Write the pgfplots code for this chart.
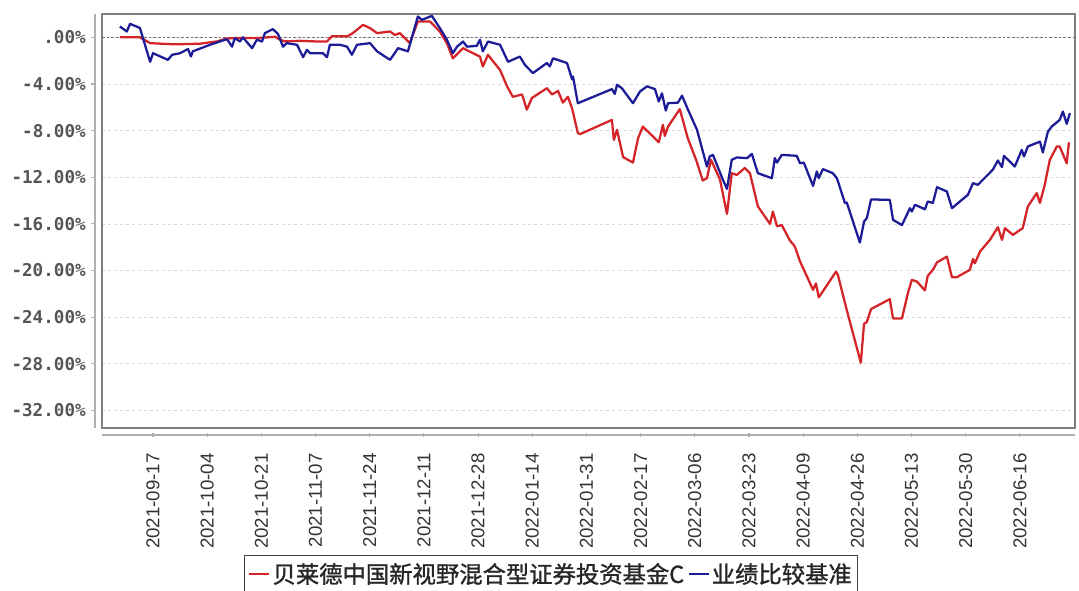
\documentclass[border=0pt]{standalone}
\usepackage{fontspec}
\setmainfont{Liberation Sans}
\setmonofont{DejaVu Sans Mono}
\newfontfamily\cjk[AutoFakeBold=1.2]{Noto Sans CJK SC}
\usepackage{pgfplots}
\pgfplotsset{compat=1.18}

\definecolor{fundred}{RGB}{212,36,40}
\definecolor{benchblue}{RGB}{28,28,150}
\definecolor{framegray}{RGB}{128,128,128}
\definecolor{axisgray}{RGB}{175,175,175}
\definecolor{labelgray}{RGB}{85,85,85}

% x = days after 2021-09-17, y = cumulative return in %
\pgfplotstableread{
x y
-10.4 0.00
-4.1 0.00
-0.9 -0.50
6.9 -0.60
14.7 -0.55
20.1 -0.35
23.2 -0.10
27.3 -0.05
33.6 -0.05
38.3 0.05
39.8 -0.20
41.4 -0.35
46.1 -0.30
50.8 -0.35
54.6 -0.35
56.2 0.10
60.2 0.10
60.9 0.07
62.7 0.36
65.9 1.07
68.1 0.79
70.3 0.36
74.4 0.50
75.9 0.20
77.5 0.36
80.6 -0.50
83.1 1.36
86.9 1.36
90.0 0.50
92.2 -0.50
94.1 -1.80
97.3 -0.93
100.4 -1.36
102.6 -1.65
103.5 -2.50
105.1 -1.50
108.9 -2.80
111.1 -4.20
112.9 -5.10
115.8 -4.90
117.3 -6.20
118.9 -5.20
123.6 -4.36
125.2 -4.90
127.1 -4.60
128.6 -5.60
130.2 -5.10
131.5 -6.10
133.3 -8.20
134.0 -8.30
144.0 -7.08
144.6 -8.80
145.6 -7.93
147.5 -10.27
150.6 -10.74
152.2 -8.65
153.7 -7.65
158.7 -9.00
160.0 -7.50
160.6 -8.45
161.6 -7.65
165.3 -6.16
167.8 -8.65
170.4 -10.50
172.5 -12.28
173.8 -12.08
175.1 -10.50
177.9 -12.20
180.1 -15.14
181.6 -11.65
183.2 -11.80
185.7 -11.20
187.3 -11.65
189.8 -14.50
193.6 -16.00
194.5 -14.94
195.8 -16.20
197.3 -16.10
199.8 -17.40
201.4 -17.94
203.0 -19.20
207.1 -21.65
208.0 -21.10
208.9 -22.30
214.3 -20.10
214.9 -20.37
217.7 -23.40
222.1 -27.90
223.1 -24.57
224.0 -24.40
225.3 -23.30
231.2 -22.45
232.2 -24.10
235.0 -24.10
236.9 -21.90
238.1 -20.80
239.7 -20.94
242.2 -21.70
243.1 -20.45
244.7 -19.94
246.0 -19.30
249.1 -18.80
250.7 -20.57
252.2 -20.57
256.3 -19.94
257.3 -19.00
257.9 -19.37
259.5 -18.37
262.6 -17.37
265.1 -16.28
266.4 -17.37
267.3 -16.36
269.8 -16.94
272.9 -16.36
274.5 -14.50
277.3 -13.36
278.3 -14.20
279.8 -12.65
281.4 -10.50
283.6 -9.36
284.5 -9.36
286.7 -10.80
287.4 -9.00
}\fund

\pgfplotstableread{
x y
-10.4 0.93
-8.2 0.50
-7.2 1.16
-4.1 0.80
-0.9 -2.10
0.0 -1.36
4.7 -1.93
6.0 -1.50
8.5 -1.36
11.0 -1.00
11.9 -1.65
12.5 -1.20
17.9 -0.64
23.2 -0.15
24.8 -0.80
25.7 -0.07
27.3 -0.36
28.2 0.00
31.1 -0.93
32.6 -0.20
34.2 -0.36
35.1 0.36
37.6 0.70
39.2 0.30
40.8 -0.80
42.0 -0.50
45.2 -0.64
47.1 -1.70
48.3 -1.07
49.3 -1.36
53.3 -1.36
54.6 -1.70
55.5 -0.64
58.7 -0.64
60.9 -0.80
62.4 -1.50
64.0 -0.64
68.1 -0.50
70.3 -1.20
72.8 -1.65
74.4 -1.93
76.9 -0.93
80.0 -1.20
83.1 1.78
84.4 1.50
87.5 1.84
90.0 0.80
92.2 -0.20
94.1 -1.36
95.4 -0.80
97.3 -0.36
98.5 -0.80
101.6 -0.73
102.6 -0.20
103.5 -1.20
105.1 -0.36
108.9 -0.64
111.4 -2.10
115.1 -1.65
116.7 -2.36
119.2 -3.07
123.6 -2.20
124.5 -2.50
125.5 -1.80
129.9 -2.20
131.5 -3.60
131.8 -3.36
133.3 -5.65
144.0 -4.44
144.9 -4.85
145.6 -4.07
147.1 -4.36
150.6 -5.65
152.8 -4.65
155.0 -4.20
157.5 -4.44
158.7 -5.50
159.7 -4.80
160.9 -6.28
161.6 -5.65
164.7 -5.60
166.0 -5.00
167.8 -6.16
170.7 -7.93
173.8 -11.08
174.7 -10.20
175.7 -10.08
178.8 -12.20
180.1 -13.00
181.6 -10.50
183.2 -10.30
186.4 -10.36
187.9 -10.00
189.8 -11.65
194.2 -12.08
195.1 -10.36
195.8 -10.74
197.3 -10.08
202.0 -10.16
203.0 -10.80
204.2 -10.74
207.1 -12.74
208.3 -11.50
208.9 -12.08
210.2 -11.30
213.3 -11.65
214.6 -12.08
217.1 -14.20
217.7 -14.17
221.8 -17.60
223.1 -15.80
224.0 -15.50
225.3 -13.90
231.2 -13.94
232.2 -15.65
235.0 -16.10
237.5 -14.65
238.1 -14.94
239.1 -14.36
242.2 -14.74
243.1 -14.08
244.7 -14.20
246.0 -12.85
249.1 -13.22
250.7 -14.65
255.7 -13.50
257.3 -12.50
258.8 -12.65
263.5 -11.36
265.1 -10.56
266.4 -11.13
267.0 -10.16
270.4 -11.08
272.6 -9.65
273.3 -10.22
274.5 -9.36
278.3 -8.94
279.2 -9.88
280.8 -8.08
282.0 -7.65
284.5 -7.08
285.5 -6.36
286.7 -7.42
287.7 -6.50
}\bench

\begin{document}
\begin{tikzpicture}
\begin{axis}[
  at={(76.5pt,-321pt)}, anchor=south west,
  scale only axis, width=729.75pt, height=310.5pt,
  xmin=-16, xmax=289.3, ymin=-33.5, ymax=2.0,
  clip mode=individual,
  axis line style={draw=framegray, line width=1.1pt},
  major tick length=0pt,
  xtick={0,17,...,272},
  xticklabels={2021-09-17,2021-10-04,2021-10-21,2021-11-07,2021-11-24,2021-12-11,2021-12-28,2022-01-14,2022-01-31,2022-02-17,2022-03-06,2022-03-23,2022-04-09,2022-04-26,2022-05-13,2022-05-30,2022-06-16},
  xticklabel style={rotate=90, anchor=east, inner sep=0pt, xshift=-18.75pt,
    font=\fontsize{14}{16}\selectfont, text=black!80},
  ytick={-32,-28,-24,-20,-16,-12,-8,-4,0},
  yticklabels={-32.00\%,-28.00\%,-24.00\%,-20.00\%,-16.00\%,-12.00\%,-8.00\%,-4.00\%,.00\%},
  yticklabel style={anchor=east, inner sep=0pt, xshift=-12pt,
    font=\ttfamily\bfseries\fontsize{13.2}{15}\selectfont, text=labelgray},
  ymajorgrids,
  major grid style={black!15, dash pattern=on 2.5pt off 2pt, line width=0.6pt},
  legend columns=2,
  legend style={at={(0.4615,-0.3068)}, anchor=north, draw=black!75,
    line width=1.1pt, inner xsep=3pt, inner ysep=4pt,
    font=\cjk\bfseries\fontsize{17.5}{20}\selectfont, text=black!85,
    nodes={inner sep=1.5pt},
    /tikz/every even column/.append style={column sep=1pt}},
  legend image code/.code={\draw[#1] (0pt,0pt) -- (15pt,0pt);},
]
\draw[black!55, dash pattern=on 2pt off 1.5pt, line width=0.7pt]
  (axis cs:-16,0) -- (axis cs:289.3,0);
\addplot[fundred, line width=1.7pt, line join=round] table[x=x,y=y]{\fund};
\addlegendentry{贝莱德中国新视野混合型证券投资基金C}
\addplot[benchblue, line width=1.7pt, line join=round] table[x=x,y=y]{\bench};
\addlegendentry{业绩比较基准}
% offset axis lines with their ticks
\draw[axisgray, line width=1.1pt]
  ([xshift=-5.25pt]axis cs:-16,-33.5) -- ([xshift=-5.25pt]axis cs:-16,2.0);
\draw[axisgray, line width=1.1pt]
  ([yshift=-5.25pt]axis cs:-16,-33.5) -- ([yshift=-5.25pt]axis cs:289.3,-33.5);
\pgfplotsinvokeforeach{0,-4,-8,-12,-16,-20,-24,-28,-32}{
  \draw[axisgray, line width=0.8pt] ([xshift=-5.25pt]axis cs:-16,#1) -- ([xshift=-8.25pt]axis cs:-16,#1);
}
\pgfplotsinvokeforeach{0,17,34,51,68,85,102,119,136,153,170,187,204,221,238,255,272}{
  \draw[axisgray, line width=0.8pt] ([yshift=-3.75pt]axis cs:#1,-33.5) -- ([yshift=-6.75pt]axis cs:#1,-33.5);
}
\end{axis}
\pgfresetboundingbox
\path (0pt,0pt) rectangle (809.25pt,-442.5pt);
\end{tikzpicture}
\end{document}
